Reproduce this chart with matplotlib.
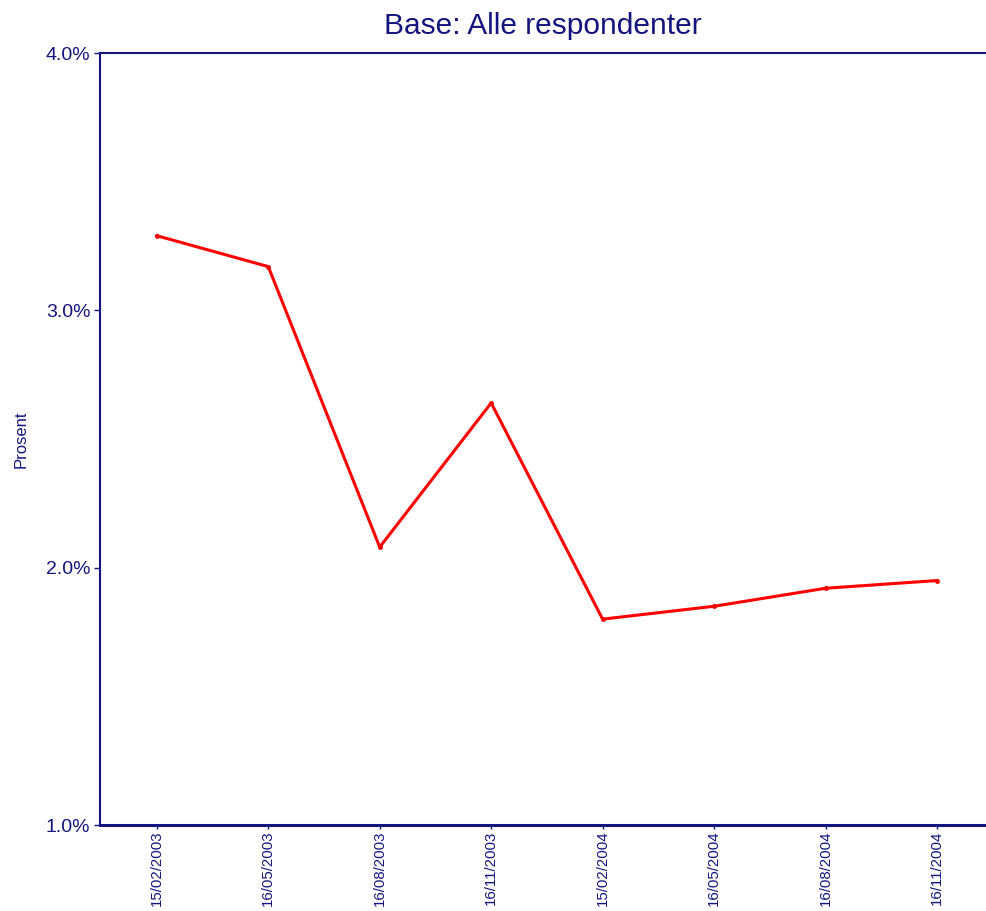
import numpy as np
import matplotlib.pyplot as plt
from matplotlib.ticker import PercentFormatter

plt.rcParams['font.family'] = ['Liberation Sans', 'DejaVu Sans']

dates = ["15/02/2003", "16/05/2003", "16/08/2003", "16/11/2003",
         "15/02/2004", "16/05/2004", "16/08/2004", "16/11/2004"]
values = [3.29, 3.17, 2.08, 2.64, 1.80, 1.85, 1.92, 1.95]
yticks = [1.0, 2.0, 3.0, 4.0]

navy = "#14147e"

fig = plt.figure(figsize=(9.86, 9.11), dpi=100)
ax = fig.add_axes([0.1014, 0.0944, 0.8986, 0.8474])

x = np.arange(len(dates))
ax.plot(x, values, color="#ff0000", lw=2.2, marker="o", ms=2.5, zorder=3)

ax.set_xlim(-0.51, 7.44)
ax.set_ylim(1.0, 4.0)
ax.set_xticks(x)
ax.set_xticklabels(dates, rotation=90, fontsize=10.8, color=navy)
ax.set_yticks(yticks)
ax.yaxis.set_major_formatter(PercentFormatter(decimals=1))
ax.tick_params(axis="y", labelsize=14, colors=navy, length=4, width=1, pad=3)
ax.tick_params(axis="x", colors=navy, length=3, width=1, pad=1)

ax.spines["right"].set_visible(False)
for s in ["left", "top", "bottom"]:
    ax.spines[s].set_color(navy)
    ax.spines[s].set_linewidth(1.5)
ax.spines["bottom"].set_linewidth(2.2)
ax.axhline(1.0, color="#888888", lw=1, zorder=1)

ax.set_ylabel("Prosent", fontsize=12, color=navy, labelpad=12)
ax.set_title("Base: Alle respondenter", fontsize=21.5, color=navy, pad=14)

fig.savefig("out.png", dpi=100)
